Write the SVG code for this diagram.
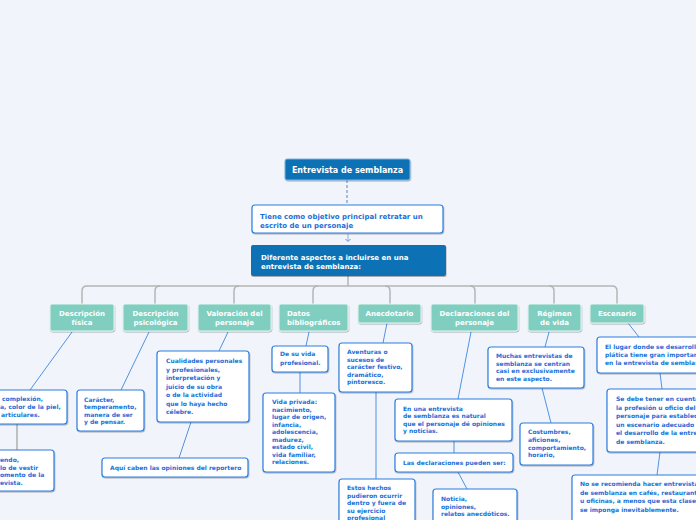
<svg xmlns="http://www.w3.org/2000/svg" width="696" height="520" viewBox="0 0 696 520">
<defs>
<filter id="sh" x="-10%" y="-10%" width="120%" height="140%">
<feDropShadow dx="0.5" dy="1" stdDeviation="0.7" flood-color="#000" flood-opacity="0.3"/>
</filter>
<style>
text{font-family:"DejaVu Sans","Verdana",sans-serif;font-weight:bold}
.root{fill:#0b72b5;stroke:#7fb2dd;stroke-width:1}
.main{fill:#0b72b5}
.cat{fill:#7fcebf;stroke:#e6f5f2;stroke-width:1}
.child{fill:#fff;stroke:#2c7fe0;stroke-width:1.2}
.tw{fill:#fff}
.tb{fill:#1b6fd8;font-size:6px}
.tc{fill:#fff;font-size:7px}
.bus{fill:none;stroke:#b5b5b5;stroke-width:1.5}
.ln{fill:none;stroke:#4f94e6;stroke-width:1}
.lnt{fill:none;stroke:#9cc3f0;stroke-width:2}
.lng{fill:none;stroke:#c0c0c0;stroke-width:2}
</style>
</defs>
<rect width="696" height="520" fill="#f1f4fb"/>

<g id="connectors">
<path d="M347,180 V205" fill="none" stroke="#8fa9cc" stroke-width="1.5" stroke-dasharray="3,2"/>
<path d="M348,234 V241" fill="none" stroke="#8fb3e0" stroke-width="1"/>
<path d="M345.5,239 L348,241.5 L350.5,239" fill="none" stroke="#4f94e6" stroke-width="1"/>
<path class="bus" d="M348,276 V286"/>
<path class="bus" d="M82,304 V291 Q82,286 87,286 H612 Q617,286 617,291 V304"/>
<path class="bus" d="M155,304 V291 Q155,286 160,286"/>
<path class="bus" d="M234,304 V291 Q234,286 239,286"/>
<path class="bus" d="M313,304 V291 Q313,286 318,286"/>
<path class="bus" d="M390,304 V291 Q390,286 385,286"/>
<path class="bus" d="M475,304 V291 Q475,286 470,286"/>
<path class="bus" d="M554,304 V291 Q554,286 549,286"/>
<path class="ln" d="M72,332 L30,390"/>
<path class="lng" d="M17,424 V450"/>
<path class="ln" d="M149,332 L121,390"/>
<path class="ln" d="M228,332 L219,351"/>
<path class="ln" d="M191,422 L179,458"/>
<path class="ln" d="M309,332 L306,346"/>
<path class="ln" d="M300,372 V393"/>
<path class="ln" d="M387,323 L383,343"/>
<path class="lnt" d="M376,392 V479"/>
<path class="ln" d="M471,332 L458,399"/>
<path class="lnt" d="M454,441 V453"/>
<path class="ln" d="M458,472 L467,489"/>
<path class="ln" d="M549,332 L545,347"/>
<path class="ln" d="M542,388 L551,423"/>
<path class="ln" d="M628,323 L639,337"/>
<path class="ln" d="M660,373 L662,389"/>
<path class="ln" d="M660,452 L657,475"/>
</g>

<g id="root">
<rect class="root" x="285" y="159" width="125" height="21" rx="2" filter="url(#sh)"/>
<text class="tw" x="347.5" y="172.5" font-size="8" text-anchor="middle">Entrevista de semblanza</text>
</g>

<g id="objetivo">
<rect class="child" x="252" y="205" width="191" height="28" rx="3" filter="url(#sh)"/>
<text class="tb" font-size="7" style="font-size:7px" x="260" y="218.5">Tiene como objetivo principal retratar un<tspan x="260" dy="9">escrito de un personaje</tspan></text>
</g>

<g id="aspectos">
<rect class="main" x="251" y="245" width="195" height="31" rx="2" filter="url(#sh)"/>
<text class="tw" font-size="7" x="261" y="259.5">Diferente aspectos a incluirse en una<tspan x="261" dy="9">entrevista de semblanza:</tspan></text>
</g>

<g id="cat-fisica">
<rect class="cat" x="50" y="304" width="64" height="27" rx="2" filter="url(#sh)"/>
<text class="tc" x="82" y="315.5" text-anchor="middle">Descripción<tspan x="82" dy="9">física</tspan></text>
</g>
<g id="cat-psico">
<rect class="cat" x="123" y="304" width="65" height="27" rx="2" filter="url(#sh)"/>
<text class="tc" x="155.5" y="315.5" text-anchor="middle">Descripción<tspan x="155.5" dy="9">psicológica</tspan></text>
</g>
<g id="cat-valoracion">
<rect class="cat" x="198" y="304" width="73" height="27" rx="2" filter="url(#sh)"/>
<text class="tc" x="234.5" y="315.5" text-anchor="middle">Valoración del<tspan x="234.5" dy="9">personaje</tspan></text>
</g>
<g id="cat-datos">
<rect class="cat" x="279" y="304" width="69" height="27" rx="2" filter="url(#sh)"/>
<text class="tc" x="287" y="315.5">Datos<tspan x="287" dy="9">bibliográficos</tspan></text>
</g>
<g id="cat-anecdotario">
<rect class="cat" x="358" y="304" width="63" height="19" rx="2" filter="url(#sh)"/>
<text class="tc" x="389.5" y="315.5" text-anchor="middle">Anecdotario</text>
</g>
<g id="cat-declaraciones">
<rect class="cat" x="431" y="304" width="87" height="27" rx="2" filter="url(#sh)"/>
<text class="tc" x="474.5" y="315.5" text-anchor="middle">Declaraciones del<tspan x="474.5" dy="9">personaje</tspan></text>
</g>
<g id="cat-regimen">
<rect class="cat" x="528" y="304" width="53" height="27" rx="2" filter="url(#sh)"/>
<text class="tc" x="554.5" y="315.5" text-anchor="middle">Régimen<tspan x="554.5" dy="9">de vida</tspan></text>
</g>
<g id="cat-escenario">
<rect class="cat" x="590" y="304" width="54" height="19" rx="2" filter="url(#sh)"/>
<text class="tc" x="617" y="315.5" text-anchor="middle">Escenario</text>
</g>

<g id="fisica-1">
<rect class="child" x="-5" y="390" width="72" height="34" rx="3" filter="url(#sh)"/>
<text class="tb" x="2" y="401">complexión,<tspan x="0" dy="8">a, color de la piel,</tspan><tspan x="1" dy="8">articulares.</tspan></text>
</g>
<g id="fisica-2">
<rect class="child" x="-5" y="450" width="59" height="41" rx="3" filter="url(#sh)"/>
<text class="tb" x="0" y="462">endo,<tspan x="0" dy="7.5">lo de vestir</tspan><tspan x="0" dy="7.5">omento de la</tspan><tspan x="0" dy="7.5">evista.</tspan></text>
</g>
<g id="psico-1">
<rect class="child" x="77" y="390" width="67" height="41" rx="3" filter="url(#sh)"/>
<text class="tb" x="84" y="402">Carácter,<tspan x="84" dy="7.4">temperamento,</tspan><tspan x="84" dy="7.4">manera de ser</tspan><tspan x="84" dy="7.4">y de pensar.</tspan></text>
</g>
<g id="valoracion-1">
<rect class="child" x="157" y="351" width="92" height="71" rx="3" filter="url(#sh)"/>
<text class="tb" x="166" y="363">Cualidades personales<tspan x="166" dy="8.5">y profesionales,</tspan><tspan x="166" dy="8.5">interpretación y</tspan><tspan x="166" dy="8.5">juicio de su obra</tspan><tspan x="166" dy="8.5">o de la actividad</tspan><tspan x="166" dy="8.5">que lo haya hecho</tspan><tspan x="166" dy="8.5">célebre.</tspan></text>
</g>
<g id="valoracion-2">
<rect class="child" x="102" y="458" width="146" height="19" rx="3" filter="url(#sh)"/>
<text class="tb" x="110" y="469.5">Aquí caben las opiniones del reportero</text>
</g>
<g id="datos-1">
<rect class="child" x="272" y="346" width="56" height="26" rx="3" filter="url(#sh)"/>
<text class="tb" x="280" y="356">De su vida<tspan x="280" dy="8.5">profesional.</tspan></text>
</g>
<g id="datos-2">
<rect class="child" x="263" y="393" width="72" height="79" rx="3" filter="url(#sh)"/>
<text class="tb" x="272" y="404">Vida privada:<tspan x="272" dy="7.5">nacimiento,</tspan><tspan x="272" dy="7.5">lugar de origen,</tspan><tspan x="272" dy="7.5">infancia,</tspan><tspan x="272" dy="7.5">adolescencia,</tspan><tspan x="272" dy="7.5">madurez,</tspan><tspan x="272" dy="7.5">estado civil,</tspan><tspan x="272" dy="7.5">vida familiar,</tspan><tspan x="272" dy="7.5">relaciones.</tspan></text>
</g>
<g id="anecdotario-1">
<rect class="child" x="339" y="343" width="73" height="49" rx="3" filter="url(#sh)"/>
<text class="tb" x="347" y="354">Aventuras o<tspan x="347" dy="7.6">sucesos de</tspan><tspan x="347" dy="7.6">carácter festivo,</tspan><tspan x="347" dy="7.6">dramático,</tspan><tspan x="347" dy="7.6">pintoresco.</tspan></text>
</g>
<g id="anecdotario-2">
<rect class="child" x="339" y="479" width="76" height="50" rx="3" filter="url(#sh)"/>
<text class="tb" x="347" y="490">Estos hechos<tspan x="347" dy="7.6">pudieron ocurrir</tspan><tspan x="347" dy="7.6">dentro y fuera de</tspan><tspan x="347" dy="7.6">su ejercicio</tspan><tspan x="347" dy="7.6">profesional</tspan></text>
</g>
<g id="declaraciones-1">
<rect class="child" x="395" y="399" width="117" height="42" rx="3" filter="url(#sh)"/>
<text class="tb" x="403" y="411">En una entrevista<tspan x="403" dy="7.4">de semblanza es natural</tspan><tspan x="403" dy="7.4">que el personaje dé opiniones</tspan><tspan x="403" dy="7.4">y noticias.</tspan></text>
</g>
<g id="declaraciones-2">
<rect class="child" x="395" y="453" width="118" height="19" rx="3" filter="url(#sh)"/>
<text class="tb" x="403" y="464.5">Las declaraciones pueden ser:</text>
</g>
<g id="declaraciones-3">
<rect class="child" x="433" y="489" width="84" height="40" rx="3" filter="url(#sh)"/>
<text class="tb" x="441" y="501">Noticia,<tspan x="441" dy="7.5">opiniones,</tspan><tspan x="441" dy="7.5">relatos anecdóticos.</tspan></text>
</g>
<g id="regimen-1">
<rect class="child" x="488" y="347" width="96" height="41" rx="3" filter="url(#sh)"/>
<text class="tb" x="496" y="358">Muchas entrevistas de<tspan x="496" dy="7.5">semblanza se centran</tspan><tspan x="496" dy="7.5">casi en exclusivamente</tspan><tspan x="496" dy="7.5">en este aspecto.</tspan></text>
</g>
<g id="regimen-2">
<rect class="child" x="520" y="423" width="73" height="42" rx="3" filter="url(#sh)"/>
<text class="tb" x="528" y="434">Costumbres,<tspan x="528" dy="7.8">aficiones,</tspan><tspan x="528" dy="7.8">comportamiento,</tspan><tspan x="528" dy="7.8">horario,</tspan></text>
</g>
<g id="escenario-1">
<rect class="child" x="597" y="337" width="110" height="36" rx="3" filter="url(#sh)"/>
<text class="tb" x="605" y="349">El lugar donde se desarrolle la<tspan x="605" dy="8.2">plática tiene gran importancia</tspan><tspan x="605" dy="8.2">en la entrevista de semblanza.</tspan></text>
</g>
<g id="escenario-2">
<rect class="child" x="607" y="389" width="100" height="63" rx="3" filter="url(#sh)"/>
<text class="tb" x="616" y="401">Se debe tener en cuenta<tspan x="616" dy="8.5">la profesión u oficio del</tspan><tspan x="616" dy="8.5">personaje para establecer</tspan><tspan x="616" dy="8.5">un escenario adecuado para</tspan><tspan x="616" dy="8.5">el desarrollo de la entrevista</tspan><tspan x="616" dy="8.5">de semblanza.</tspan></text>
</g>
<g id="escenario-3">
<rect class="child" x="572" y="475" width="135" height="55" rx="3" filter="url(#sh)"/>
<text class="tb" x="580" y="486">No se recomienda hacer entrevistas<tspan x="580" dy="8.7">de semblanza en cafés, restaurantes</tspan><tspan x="580" dy="8.7">u oficinas, a menos que esta clase</tspan><tspan x="580" dy="8.7">se imponga inevitablemente.</tspan></text>
</g>
</svg>
